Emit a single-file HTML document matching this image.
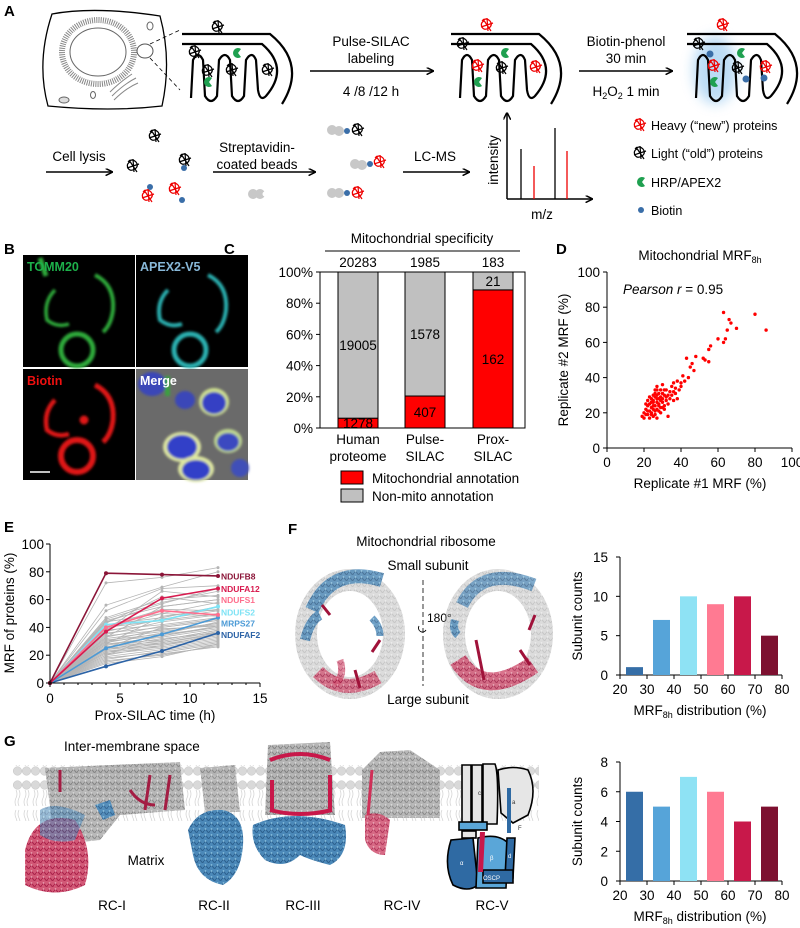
<!DOCTYPE html>
<html><head><meta charset="utf-8">
<style>
html,body{margin:0;padding:0;background:#fff;}
svg{display:block;font-family:"Liberation Sans",Arial,sans-serif;}
text{font-family:"Liberation Sans",Arial,sans-serif;}
</style></head>
<body>
<svg id="fig" width="800" height="928" viewBox="0 0 800 928" xmlns="http://www.w3.org/2000/svg">
<defs>
  <filter id="blur1" x="-20%" y="-20%" width="140%" height="140%"><feGaussianBlur stdDeviation="1.4"/></filter>
  <filter id="blur6" x="-50%" y="-50%" width="200%" height="200%"><feGaussianBlur stdDeviation="6"/></filter>
  <pattern id="lipid" x="13" y="0" width="9" height="60" patternUnits="userSpaceOnUse">
    <circle cx="4.5" cy="5" r="4.3" fill="#d9d9d9" stroke="#c4c4c4" stroke-width="0.5"/>
    <circle cx="4.5" cy="51" r="4.3" fill="#d9d9d9" stroke="#c4c4c4" stroke-width="0.5"/>
    <path d="M3,10 q2,4 0,8 q-2,4 0,8 M6,10 q2,4 0,8 q-2,4 0,8 M3,46 q2,-4 0,-8 q-2,-4 0,-8 M6,46 q2,-4 0,-8 q-2,-4 0,-8" stroke="#cfcfcf" stroke-width="0.7" fill="none"/>
  </pattern>
  <pattern id="grayprot" width="6" height="6" patternUnits="userSpaceOnUse">
    <rect width="6" height="6" fill="#a8a8a8"/>
    <path d="M0,3 q1.5,-3 3,0 t3,0" stroke="#6e6e6e" stroke-width="1" fill="none"/>
    <circle cx="1.5" cy="1" r="0.9" fill="#d8d8d8"/>
  </pattern>
  <pattern id="blueprot" width="6" height="6" patternUnits="userSpaceOnUse">
    <rect width="6" height="6" fill="#4b88b8"/>
    <path d="M0,3 q1.5,-3 3,0 t3,0" stroke="#2b5e8c" stroke-width="1" fill="none"/>
    <circle cx="1.5" cy="1" r="0.9" fill="#8cc3e0"/>
  </pattern>
  <pattern id="redprot" width="6" height="6" patternUnits="userSpaceOnUse">
    <rect width="6" height="6" fill="#d0506f"/>
    <path d="M0,3 q1.5,-3 3,0 t3,0" stroke="#a3123e" stroke-width="1" fill="none"/>
    <circle cx="1.5" cy="1" r="0.9" fill="#eaa0b0"/>
  </pattern>
  <marker id="arr" viewBox="0 0 10 10" refX="9" refY="5" markerWidth="5" markerHeight="5" orient="auto"><path d="M0,0 L10,5 L0,10" fill="none" stroke="#000" stroke-width="2"/></marker>
  <g id="prot"><path d="M-5,-4 q4,-4 8,0 q3,4 -1,7 q-5,3 -7,-1 q-2,-4 2,-6 M-6,2 L6,-2 M0,-7 L1,6 M-4,-6 L4,6" fill="none" stroke-width="1.2"/></g>
  <g id="mito">
    <path d="M0,2 H88 Q125,32 100,72" fill="none" stroke="#000" stroke-width="2.2"/>
    <path d="M0,12 H80 Q108,36 84,64 Q78,70 76,58 L74,28 Q70,18 64,28 L62,64 Q56,74 50,64 L48,28 Q43,18 37,28 L35,64 Q29,74 23,64 L21,28 Q16,18 11,28 L9,66" fill="none" stroke="#000" stroke-width="2.2"/>
  </g>
  <g id="hrp"><path d="M4,-4 A5,5 0 1 0 4,4 L1,0 Z" fill="#1fa050"/></g>
</defs>

<!-- ================= PANEL A ================= -->
<g>
  <text x="4" y="16" font-size="15" font-weight="bold">A</text>
  <g>
    <path d="M52,14 Q95,6 160,16 Q172,60 162,106 Q110,112 48,106 Q36,62 52,14 Z" fill="#fff" stroke="#000" stroke-width="1.3"/>
    <ellipse cx="98" cy="52" rx="36" ry="32" fill="none" stroke="#888" stroke-width="6" stroke-dasharray="1 1.2"/>
    <ellipse cx="98" cy="52" rx="28" ry="24" fill="#fff" stroke="#666" stroke-width="1"/>
    <path d="M110,92 q10,-10 22,-18 M112,96 q12,-12 24,-18 M114,100 q12,-12 24,-17" stroke="#888" fill="none" stroke-width="1"/>
    <ellipse cx="145" cy="51" rx="8" ry="7" fill="#fff" stroke="#555" stroke-width="1"/>
    <ellipse cx="64" cy="100" rx="5" ry="3" fill="#ddd" stroke="#666"/>
    <ellipse cx="150" cy="26" rx="3" ry="4" fill="none" stroke="#666"/>
    <ellipse cx="93" cy="95" rx="2.5" ry="3.5" fill="none" stroke="#666"/>
    <path d="M150,44 L180,30 M150,58 L180,90" stroke="#000" stroke-width="0.8" stroke-dasharray="4 3"/>
  </g>
  <use href="#mito" x="182" y="32"/>
  <use href="#prot" x="218" y="27" stroke="#000"/>
  <use href="#prot" x="195" y="52" stroke="#000"/>
  <use href="#prot" x="208" y="71" stroke="#000"/>
  <use href="#prot" x="232" y="70" stroke="#000"/>
  <use href="#prot" x="268" y="70" stroke="#000"/>
  <use href="#hrp" x="237" y="53"/><use href="#hrp" x="208" y="82"/>
  <line x1="310" y1="71" x2="433" y2="71" stroke="#000" stroke-width="1.5" marker-end="url(#arr)"/>
  <text x="371" y="46" font-size="13.5" text-anchor="middle">Pulse-SILAC</text>
  <text x="371" y="63" font-size="13.5" text-anchor="middle">labeling</text>
  <text x="371" y="96" font-size="13.5" text-anchor="middle">4 /8 /12 h</text>
  <use href="#mito" x="451" y="32"/>
  <use href="#prot" x="487" y="25" stroke="#e00"/>
  <use href="#prot" x="463" y="44" stroke="#000"/>
  <use href="#prot" x="478" y="66" stroke="#e00"/>
  <use href="#prot" x="502" y="68" stroke="#000"/>
  <use href="#prot" x="536" y="67" stroke="#e00"/>
  <use href="#hrp" x="505" y="53"/><use href="#hrp" x="478" y="82"/>
  <line x1="579" y1="71" x2="672" y2="71" stroke="#000" stroke-width="1.5" marker-end="url(#arr)"/>
  <text x="626" y="46" font-size="13.5" text-anchor="middle">Biotin-phenol</text>
  <text x="626" y="63" font-size="13.5" text-anchor="middle">30 min</text>
  <text x="626" y="96" font-size="13.5" text-anchor="middle">H<tspan font-size="9" dy="3">2</tspan><tspan dy="-3">O</tspan><tspan font-size="9" dy="3">2</tspan><tspan dy="-3"> 1 min</tspan></text>
  <ellipse cx="715" cy="70" rx="22" ry="34" fill="#8ec4ee" opacity="0.6" filter="url(#blur6)"/>
  <use href="#mito" x="687" y="32"/>
  <use href="#prot" x="723" y="25" stroke="#e00"/>
  <use href="#prot" x="699" y="44" stroke="#000"/>
  <use href="#prot" x="714" y="66" stroke="#e00"/>
  <use href="#prot" x="738" y="68" stroke="#000"/>
  <use href="#prot" x="766" y="67" stroke="#e00"/>
  <use href="#hrp" x="741" y="53"/><use href="#hrp" x="714" y="82"/>
  <circle cx="710" cy="54" r="3.5" fill="#3a6ea8"/><circle cx="746" cy="79" r="3.5" fill="#3a6ea8"/><circle cx="764" cy="78" r="3.5" fill="#3a6ea8"/>
  <text x="79" y="161" font-size="13.5" text-anchor="middle">Cell lysis</text>
  <line x1="46" y1="172" x2="112" y2="172" stroke="#000" stroke-width="1.5" marker-end="url(#arr)"/>
  <use href="#prot" x="155" y="136" stroke="#000"/>
  <use href="#prot" x="133" y="166" stroke="#000"/>
  <use href="#prot" x="185" y="160" stroke="#000"/><circle cx="184" cy="168" r="3" fill="#3a6ea8"/>
  <circle cx="150" cy="187" r="3" fill="#3a6ea8"/><use href="#prot" x="148" y="196" stroke="#e00"/>
  <use href="#prot" x="175" y="189" stroke="#e00"/><circle cx="182" cy="200" r="3" fill="#3a6ea8"/>
  <text x="257" y="152" font-size="13.5" text-anchor="middle">Streptavidin-</text>
  <text x="257" y="169" font-size="13.5" text-anchor="middle">coated beads</text>
  <line x1="213" y1="172" x2="315" y2="172" stroke="#000" stroke-width="1.5" marker-end="url(#arr)"/>
  <circle cx="253" cy="194" r="5" fill="#c8c8c8"/><circle cx="260" cy="194" r="5" fill="#c8c8c8"/><circle cx="265" cy="194" r="2.5" fill="#fff"/>
  <circle cx="332" cy="130" r="5" fill="#c8c8c8"/><circle cx="339" cy="131" r="5" fill="#c8c8c8"/><circle cx="347" cy="131" r="3" fill="#3a6ea8"/><use href="#prot" x="358" y="130" stroke="#000"/>
  <circle cx="355" cy="164" r="5" fill="#c8c8c8"/><circle cx="362" cy="165" r="5" fill="#c8c8c8"/><circle cx="370" cy="164" r="3" fill="#3a6ea8"/><use href="#prot" x="380" y="162" stroke="#e00"/>
  <circle cx="332" cy="193" r="5" fill="#c8c8c8"/><circle cx="339" cy="193" r="5" fill="#c8c8c8"/><circle cx="347" cy="193" r="3" fill="#3a6ea8"/><use href="#prot" x="358" y="193" stroke="#e00"/>
  <text x="435" y="161" font-size="13.5" text-anchor="middle">LC-MS</text>
  <line x1="403" y1="172" x2="469" y2="172" stroke="#000" stroke-width="1.5" marker-end="url(#arr)"/>
  <g>
    <line x1="507" y1="199" x2="507" y2="113" stroke="#000" stroke-width="1.5" marker-end="url(#arr)"/>
    <line x1="507" y1="199" x2="592" y2="199" stroke="#000" stroke-width="1.5" marker-end="url(#arr)"/>
    <line x1="521" y1="199" x2="521" y2="149" stroke="#000" stroke-width="1.3"/>
    <line x1="534" y1="199" x2="534" y2="166" stroke="#e00" stroke-width="1.3"/>
    <line x1="555" y1="199" x2="555" y2="128" stroke="#000" stroke-width="1.3"/>
    <line x1="567" y1="199" x2="567" y2="151" stroke="#e00" stroke-width="1.3"/>
    <text x="0" y="0" font-size="13.5" text-anchor="middle" transform="translate(498,160) rotate(-90)">intensity</text>
    <text x="542" y="219" font-size="13.5" text-anchor="middle">m/z</text>
  </g>
  <g>
    <use href="#prot" x="640" y="125" stroke="#e00"/>
    <text x="651" y="130" font-size="12.5">Heavy (“new”) proteins</text>
    <use href="#prot" x="640" y="153" stroke="#000"/>
    <text x="651" y="158" font-size="12.5">Light (“old”) proteins</text>
    <use href="#hrp" x="641" y="182"/>
    <text x="651" y="187" font-size="12.5">HRP/APEX2</text>
    <circle cx="641" cy="210" r="3" fill="#3a6ea8"/>
    <text x="651" y="215" font-size="12.5">Biotin</text>
  </g>
</g>

<!-- ================= PANEL B ================= -->
<g>
  <text x="4" y="254" font-size="15" font-weight="bold">B</text>
  <g>
    <rect x="23" y="255" width="112" height="112" fill="#000"/>
    <g stroke="#2faa3a" fill="none" filter="url(#blur1)">
      <circle cx="77" cy="350" r="16" stroke-width="5"/>
      <path d="M95,275 q20,10 18,35 q-2,15 -10,22" stroke-width="4"/>
      <path d="M55,290 q-12,12 -8,30 q10,8 22,4" stroke-width="3.5"/>
      <path d="M40,258 l6,18" stroke-width="5"/>
    </g>
    <text x="27" y="271" font-size="12.5" font-weight="bold" fill="#1db04a">TOMM20</text>
  </g>
  <g>
    <rect x="136" y="255" width="112" height="112" fill="#000"/>
    <g stroke="#2ab0b0" fill="none" filter="url(#blur1)">
      <circle cx="190" cy="350" r="16" stroke-width="5"/>
      <path d="M208,275 q20,10 18,35 q-2,15 -10,22" stroke-width="4"/>
      <path d="M168,290 q-12,12 -8,30 q10,8 22,4" stroke-width="4"/>
    </g>
    <text x="140" y="271" font-size="12.5" font-weight="bold" fill="#88b8d8">APEX2-V5</text>
  </g>
  <g>
    <rect x="23" y="369" width="112" height="111" fill="#000"/>
    <g stroke="#e01818" fill="none" filter="url(#blur1)">
      <circle cx="77" cy="456" r="16" stroke-width="6"/>
      <path d="M95,385 q20,10 18,35 q-2,15 -10,22" stroke-width="5"/>
      <path d="M55,400 q-12,12 -8,30 q10,8 22,4" stroke-width="4.5"/>
      <circle cx="84" cy="420" r="4" fill="#e01818"/>
    </g>
    <line x1="30" y1="472" x2="50" y2="472" stroke="#fff" stroke-width="1.5"/>
    <text x="27" y="385" font-size="12.5" font-weight="bold" fill="#f01010">Biotin</text>
  </g>
  <g>
    <rect x="136" y="369" width="112" height="111" fill="#6a6a6a"/>
    <g filter="url(#blur1)">
      <ellipse cx="182" cy="447" rx="19" ry="15" fill="#dfe8a0"/>
      <ellipse cx="182" cy="447" rx="15" ry="12" fill="#3040c8"/>
      <ellipse cx="196" cy="469" rx="18" ry="13" fill="#dfe8a0"/>
      <ellipse cx="196" cy="470" rx="14" ry="10" fill="#3040c8"/>
      <ellipse cx="214" cy="402" rx="15" ry="14" fill="#cfe090"/>
      <ellipse cx="214" cy="403" rx="12" ry="11" fill="#3440c4"/>
      <ellipse cx="228" cy="441" rx="14" ry="12" fill="#c0d890"/>
      <ellipse cx="228" cy="442" rx="11" ry="9" fill="#3a48c0"/>
      <ellipse cx="152" cy="384" rx="14" ry="12" fill="#3a46b8"/>
      <ellipse cx="185" cy="400" rx="10" ry="9" fill="#3a46b8"/>
      <ellipse cx="240" cy="468" rx="9" ry="9" fill="#4050b8"/>
      <rect x="165" y="376" width="5" height="20" fill="#3aa040"/>
    </g>
    <text x="140" y="385" font-size="12.5" font-weight="bold" fill="#fff">Merge</text>
  </g>
</g>

<!-- ================= PANEL C ================= -->
<g id="panelC">
  <text x="224" y="254" font-size="15" font-weight="bold">C</text>
  <text x="422" y="243" font-size="13.5" text-anchor="middle">Mitochondrial specificity</text>
  <line x1="325" y1="251" x2="520" y2="251" stroke="#000" stroke-width="1"/>
</g>

<!-- ================= PANEL D ================= -->
<g id="panelD">
  <text x="556" y="254" font-size="15" font-weight="bold">D</text>
  <text x="700" y="260" font-size="13.5" text-anchor="middle">Mitochondrial MRF<tspan font-size="9" dy="3">8h</tspan></text>
  <text x="623" y="294" font-size="13.5"><tspan font-style="italic">Pearson r</tspan> = 0.95</text>
</g>

<!-- ================= PANEL E ================= -->
<g id="panelE">
  <text x="4" y="532" font-size="15" font-weight="bold">E</text>
</g>

<!-- ================= PANEL F ================= -->
<g id="panelF">
  <text x="288" y="534" font-size="15" font-weight="bold">F</text>
  <text x="426" y="546" font-size="13.5" text-anchor="middle">Mitochondrial ribosome</text>
  <text x="428" y="570" font-size="13.5" text-anchor="middle">Small subunit</text>
  <text x="428" y="704" font-size="13.5" text-anchor="middle">Large subunit</text>
  <line x1="423" y1="580" x2="423" y2="686" stroke="#000" stroke-width="0.8" stroke-dasharray="5 3"/>
  <text x="427" y="622" font-size="12">180°</text>
  <path d="M419,626 a4,4 0 1 0 7,4" fill="none" stroke="#000" stroke-width="0.9"/>
  <g>
    <ellipse cx="350" cy="634" rx="44" ry="54" fill="none" stroke="url(#grayprot)" stroke-width="22" opacity="0.4"/>
    <path d="M312,610 q20,-45 70,-30" fill="none" stroke="url(#blueprot)" stroke-width="14" opacity="0.8"/>
    <path d="M305,640 q5,-20 15,-25" fill="none" stroke="url(#blueprot)" stroke-width="10" opacity="0.8"/>
    <path d="M372,618 q8,8 8,18" fill="none" stroke="url(#blueprot)" stroke-width="7" opacity="0.8"/>
    <path d="M318,672 q25,25 60,5" fill="none" stroke="url(#redprot)" stroke-width="14" opacity="0.75"/>
    <path d="M340,660 q5,15 -5,25" fill="none" stroke="url(#redprot)" stroke-width="7" opacity="0.7"/>
    <path d="M322,605 l8,10 M380,640 l-8,12 M355,670 l5,18" stroke="#a0123a" stroke-width="3"/>
    <ellipse cx="348" cy="630" rx="20" ry="12" fill="#fff"/>
  </g>
  <g>
    <ellipse cx="498" cy="634" rx="44" ry="54" fill="none" stroke="url(#grayprot)" stroke-width="22" opacity="0.4"/>
    <path d="M462,605 q20,-40 72,-20" fill="none" stroke="url(#blueprot)" stroke-width="13" opacity="0.7"/>
    <path d="M455,620 q-3,10 3,15" fill="none" stroke="url(#blueprot)" stroke-width="8" opacity="0.8"/>
    <path d="M458,660 q25,40 75,5" fill="none" stroke="url(#redprot)" stroke-width="18" opacity="0.8"/>
    <path d="M476,640 l8,40 M535,615 l-6,15 M520,650 l10,15" stroke="#a0123a" stroke-width="3"/>
    <ellipse cx="498" cy="630" rx="18" ry="12" fill="#fff"/>
  </g>
</g>

<!-- ================= PANEL G ================= -->
<g id="panelG">
  <text x="4" y="746" font-size="15" font-weight="bold">G</text>
  <text x="64" y="751" font-size="13.5">Inter-membrane space</text>
  <rect x="13" y="765" width="526" height="56" fill="url(#lipid)"/>
  <g opacity="0.95">
    <path d="M45,768 L180,762 L185,810 L120,815 L100,840 L55,845 Z" fill="url(#grayprot)" opacity="0.85"/>
    <path d="M25,850 q10,-40 50,-30 q20,30 10,65 q-30,15 -60,0 Z" fill="url(#redprot)"/>
    <path d="M40,810 q15,-10 45,5 l-10,25 q-20,5 -35,-5 Z" fill="url(#blueprot)" opacity="0.6"/>
    <path d="M95,805 l15,-5 l5,15 l-12,5 Z" fill="url(#blueprot)"/>
    <path d="M60,770 l0,22 M150,775 l-5,35 M170,775 l-5,35" stroke="#a0123a" stroke-width="3"/>
    <path d="M130,790 q10,15 25,15" stroke="#a0123a" stroke-width="3" fill="none"/>
  </g>
  <g>
    <path d="M200,768 L235,765 L240,812 L205,812 Z" fill="url(#grayprot)" opacity="0.75"/>
    <path d="M188,830 q10,-22 35,-20 q22,5 20,35 q-2,30 -20,40 q-25,-5 -30,-30 Z" fill="url(#blueprot)"/>
  </g>
  <g>
    <path d="M268,745 L330,742 L335,815 L265,815 Z" fill="url(#grayprot)" opacity="0.85"/>
    <path d="M270,760 q30,-12 60,0 M272,780 l0,30 M330,775 l0,35 M270,810 q30,8 62,0" stroke="#c8184a" stroke-width="4" fill="none"/>
    <path d="M253,825 q40,-18 92,0 q5,30 -15,40 q-20,-5 -30,-10 q-15,15 -35,5 q-15,-15 -12,-35 Z" fill="url(#blueprot)"/>
  </g>
  <g>
    <path d="M362,770 L380,752 L410,750 L440,770 L440,818 L362,818 Z" fill="url(#grayprot)" opacity="0.8"/>
    <path d="M365,815 q15,-5 25,5 l-5,35 q-15,0 -20,-15 Z" fill="url(#redprot)" opacity="0.85"/>
    <path d="M372,770 l-4,45" stroke="#d03058" stroke-width="3"/>
  </g>
  <g stroke="#000" stroke-width="1.6">
    <path d="M462,765 h9 v60 h-9 Z M472,765 h10 v60 h-10 Z" fill="#e6e6e6"/>
    <path d="M483,764 h12 q4,10 2,60 h-14 Z" fill="#e6e6e6"/>
    <path d="M498,770 q15,-5 30,0 q10,20 0,45 l-15,8 l-12,-10 Z" fill="#e6e6e6"/>
    <path d="M509,788 v45" stroke="#2f6aa3" stroke-width="4"/>
    <rect x="459" y="822" width="28" height="8" fill="#5aa6d8"/>
    <rect x="462" y="831" width="14" height="7" fill="#e6e6e6"/>
    <path d="M451,840 q-8,25 2,45 q15,8 25,0 l-5,-47 Z" fill="#2f6aa3"/>
    <path d="M478,838 q20,-5 30,5 l-2,45 h-30 Z" fill="#5aa6d8"/>
    <path d="M507,838 l8,0 l-2,40 l-8,0 Z" fill="#2f6aa3"/>
    <path d="M483,870 h30 v13 h-30 Z" fill="#2f6aa3"/>
    <path d="M480,832 l5,0 l-2,40 l-5,0 Z" fill="#c8184a" stroke="none"/>
    <g stroke="none" font-size="6" fill="#fff">
      <text x="460" y="865">α</text><text x="490" y="860">β</text><text x="483" y="880">OSCP</text><text x="508" y="858">d</text>
    </g>
    <g stroke="none" font-size="6" fill="#333">
      <text x="478" y="795">c</text><text x="512" y="804">a</text><text x="518" y="830">F</text>
    </g>
  </g>
  <text x="112" y="910" font-size="13.5" text-anchor="middle">RC-I</text>
  <text x="214" y="910" font-size="13.5" text-anchor="middle">RC-II</text>
  <text x="303" y="910" font-size="13.5" text-anchor="middle">RC-III</text>
  <text x="402" y="910" font-size="13.5" text-anchor="middle">RC-IV</text>
  <text x="492" y="910" font-size="13.5" text-anchor="middle">RC-V</text>
  <text x="146" y="865" font-size="13.5" text-anchor="middle">Matrix</text>
</g>
</svg>

<script>
// ---------- Panel C data ----------
const cCategories = ["Human proteome", "Pulse-SILAC", "Prox-SILAC"];
const cTotals = [20283, 1985, 183];
const cMito = [1278, 407, 162];
const cNonMito = [19005, 1578, 21];
const cTicks = [0, 20, 40, 60, 80, 100];

// ---------- Panel D data ----------
const dRep1 = [63,80,86,66,67,70,65,60,63,64,56,55,52,53,55,48,43,45,47,46,41,42,44,40,38,36,35,37,34,38,36,33,30,32,31,29,28,30,27,26,25,24,23,22,21,20,19,20,22,23,24,25,26,27,28,29,30,31,32,33,27,25,24,23,26,28,29,27,25,24,26,28,30,31,32,22,21,23,25,27,29,30,26,24,22,21,25,27,28,29,31,33,34,35,36,37,39,40,27,26];
const dRep2 = [77,76,67,73,71,68,67,62,60,62,58,56,51,50,49,52,51,46,44,48,41,38,40,37,38,37,35,34,32,28,32,30,36,33,30,33,31,28,30,29,27,26,25,24,22,20,18,17,19,21,23,22,24,26,25,27,26,24,27,18,17,18,20,17,19,21,23,22,24,28,31,28,31,33,29,27,25,29,30,33,29,23,21,19,21,19,26,28,24,20,22,25,28,30,27,31,33,35,35,33];
const dTicks = [0, 20, 40, 60, 80, 100];

// ---------- Panel E data ----------
const eTimes = [0, 4, 8, 12];
const eGray = [
 [0,72,76,83],[0,56,69,80],[0,52,68,70],[0,47,60,63],[0,46,58,66],[0,45,55,60],[0,44,50,58],[0,43,62,57],
 [0,42,47,55],[0,41,53,52],[0,40,45,50],[0,39,50,48],[0,38,42,47],[0,37,46,52],[0,36,40,45],[0,35,44,49],
 [0,34,38,43],[0,33,41,46],[0,32,37,42],[0,31,35,44],[0,30,39,41],[0,30,34,40],[0,29,36,43],[0,28,33,39],
 [0,28,31,38],[0,27,34,41],[0,26,30,37],[0,26,32,36],[0,25,29,35],[0,24,31,38],[0,24,28,34],[0,23,27,33],
 [0,22,29,36],[0,22,26,32],[0,21,25,31],[0,20,27,35],[0,19,24,30],[0,18,22,28],[0,17,23,29],[0,16,20,27],
 [0,15,21,26],[0,14,19,28],[0,33,55,60],[0,38,66,62],[0,28,48,53],[0,44,57,68],[0,25,40,45],[0,20,35,40]
];
const eNames = ["NDUFB8","NDUFA12","NDUFS1","NDUFS2","MRPS27","NDUFAF2"];
const eHighlight = [[0,79,78,77],[0,37,61,68],[0,40,52,49],[0,42,45,55],[0,25,35,47],[0,12,23,36]];
const eColors = ["#8b1538","#d81b4f","#ff6f8d","#7fe3f5","#4b9ad6","#2c63a6"];
const eXTicks = [0,5,10,15];
const eYTicks = [0,20,40,60,80,100];

// ---------- Panel F / G data ----------
const binStarts = [20,30,40,50,60,70];
const fCounts = [1,7,10,9,10,5];
const gCounts = [6,5,7,6,4,5];
const binColors = ["#356ea7","#56a4d9","#8ee2f4","#ff7a92","#c8184a","#7d1030"];
const binXTicks = [20,30,40,50,60,70,80];
const fYTicks = [0,5,10,15];
const gYTicks = [0,2,4,6,8];

const NS = "http://www.w3.org/2000/svg";
const FS = 13.5;
function mk(parent, tag, attrs, txt){
  const el = document.createElementNS(NS, tag);
  for (const k in attrs) el.setAttribute(k, attrs[k]);
  if (txt !== undefined) el.textContent = txt;
  parent.appendChild(el);
  return el;
}

// ===== C =====
(function(){
  const g = document.getElementById("panelC");
  const y = p => 428 - p*1.56;
  const barX = [338, 405, 473];
  mk(g,"rect",{x:320,y:272,width:205,height:156,fill:"#fff",stroke:"#000","stroke-width":1});
  cTicks.forEach(t=>{
    mk(g,"line",{x1:316,x2:320,y1:y(t),y2:y(t),stroke:"#000"});
    const tl = mk(g,"text",{x:313,y:y(t)+5,"font-size":FS,"text-anchor":"end"}, t+"%");
    
    
  });
  cCategories.forEach((c,i)=>{
    const pm = cMito[i]/cTotals[i]*100;
    const x = barX[i];
    const r1 = mk(g,"rect",{x:x,y:y(pm),width:40,height:428-y(pm),fill:"#f00",stroke:"#000","stroke-width":1});
    
    
    const r2 = mk(g,"rect",{x:x,y:y(100),width:40,height:y(pm)-y(100),fill:"#c0c0c0",stroke:"#000","stroke-width":1});
    
    
    mk(g,"text",{x:x+20,y:267,"font-size":FS,"text-anchor":"middle"}, String(cTotals[i]));
    const my = pm > 15 ? (y(pm)+428)/2+5 : 428;
    mk(g,"text",{x:x+20,y:my,"font-size":FS,"text-anchor":"middle"}, String(cMito[i]));
    const ny = (100-pm) > 15 ? (y(100)+y(pm))/2+5 : y(100)+14;
    mk(g,"text",{x:x+20,y:ny,"font-size":FS,"text-anchor":"middle"}, String(cNonMito[i]));
    const lab = i===0 ? ["Human","proteome"] : (i===1?["Pulse-","SILAC"]:["Prox-","SILAC"]);
    mk(g,"text",{x:x+20,y:444,"font-size":FS,"text-anchor":"middle"}, lab[0]);
    mk(g,"text",{x:x+20,y:461,"font-size":FS,"text-anchor":"middle"}, lab[1]);
  });
  const l1 = mk(g,"rect",{x:341,y:471,width:22,height:13,fill:"#f00",stroke:"#000"});
  
  
  mk(g,"text",{x:372,y:483,"font-size":FS},"Mitochondrial annotation");
  const l2 = mk(g,"rect",{x:341,y:489,width:22,height:13,fill:"#c0c0c0",stroke:"#000"});
  
  
  mk(g,"text",{x:372,y:501,"font-size":FS},"Non-mito annotation");
})();

// ===== D =====
(function(){
  const g = document.getElementById("panelD");
  const x = v => 607 + v*1.85;
  const y = v => 448 - v*1.76;
  mk(g,"line",{x1:607,y1:272,x2:607,y2:448,stroke:"#000"});
  mk(g,"line",{x1:607,y1:448,x2:792,y2:448,stroke:"#000"});
  dTicks.forEach(t=>{
    mk(g,"line",{x1:603,x2:607,y1:y(t),y2:y(t),stroke:"#000"});
    mk(g,"text",{x:600,y:y(t)+5,"font-size":FS,"text-anchor":"end"}, String(t));
    mk(g,"line",{x1:x(t),x2:x(t),y1:448,y2:452,stroke:"#000"});
    mk(g,"text",{x:x(t),y:467,"font-size":FS,"text-anchor":"middle"}, String(t));
  });
  mk(g,"text",{x:700,y:488,"font-size":FS,"text-anchor":"middle"},"Replicate #1 MRF (%)");
  mk(g,"text",{x:0,y:0,"font-size":FS,"text-anchor":"middle",transform:"translate(568,360) rotate(-90)"},"Replicate #2 MRF (%)");
  dRep1.forEach((v,i)=>{
    const c = mk(g,"circle",{cx:x(v),cy:y(dRep2[i]),r:1.7,fill:"#f00"});
    
    
  });
})();

// ===== E =====
(function(){
  const g = document.getElementById("panelE");
  const x = t => 50 + t*14;
  const y = v => 683 - v*1.39;
  eGray.forEach(s=>{
    const pts = s.map((v,i)=>x(eTimes[i])+","+y(v)).join(" ");
    const pl = mk(g,"polyline",{points:pts,fill:"none",stroke:"#b4b4b4","stroke-width":0.8});
    
    
    s.forEach((v,i)=>{ if(i>0) mk(g,"circle",{cx:x(eTimes[i]),cy:y(v),r:1.5,fill:"#b4b4b4"}); });
  });
  for (let k=eHighlight.length-1;k>=0;k--){
    const s = eHighlight[k];
    const pts = s.map((v,i)=>x(eTimes[i])+","+y(v)).join(" ");
    const pl = mk(g,"polyline",{points:pts,fill:"none",stroke:eColors[k],"stroke-width":1.6});
    
    
    s.forEach((v,i)=>{ mk(g,"circle",{cx:x(eTimes[i]),cy:y(v),r:2,fill:eColors[k]}); });
  }
  const labY = [77,68,60,51,43,35];
  eNames.forEach((n,k)=>{
    mk(g,"text",{x:221,y:y(labY[k])+3.5,"font-size":8.5,"font-weight":"bold",fill:eColors[k]}, n);
  });
  mk(g,"line",{x1:50,y1:544,x2:50,y2:683,stroke:"#000"});
  mk(g,"line",{x1:50,y1:683,x2:260,y2:683,stroke:"#000"});
  eYTicks.forEach(t=>{
    mk(g,"line",{x1:46,x2:50,y1:y(t),y2:y(t),stroke:"#000"});
    mk(g,"text",{x:44,y:y(t)+5,"font-size":FS,"text-anchor":"end"}, String(t));
  });
  for(let t=0;t<=15;t++){
    mk(g,"line",{x1:x(t),x2:x(t),y1:683,y2:t%5===0?687:685,stroke:"#000"});
  }
  eXTicks.forEach(t=>{
    mk(g,"text",{x:x(t),y:703,"font-size":FS,"text-anchor":"middle"}, String(t));
  });
  mk(g,"text",{x:155,y:720,"font-size":FS,"text-anchor":"middle"},"Prox-SILAC time (h)");
  mk(g,"text",{x:0,y:0,"font-size":FS,"text-anchor":"middle",transform:"translate(14,613) rotate(-90)"},"MRF of proteins (%)");
})();

// ===== F / G histograms =====
function histogram(gid, counts, yTicks, yTop, yBottom, yMax, prefix){
  const g = document.getElementById(gid);
  const x = v => 620 + (v-20)*2.7;
  const y = c => yBottom - c*(yBottom-yTop)/yMax;
  mk(g,"line",{x1:620,y1:yTop,x2:620,y2:yBottom,stroke:"#000"});
  mk(g,"line",{x1:620,y1:yBottom,x2:782,y2:yBottom,stroke:"#000"});
  yTicks.forEach(t=>{
    mk(g,"line",{x1:616,x2:620,y1:y(t),y2:y(t),stroke:"#000"});
    mk(g,"text",{x:608,y:y(t)+5,"font-size":FS,"text-anchor":"end"}, String(t));
  });
  binXTicks.forEach(t=>{
    mk(g,"line",{x1:x(t),x2:x(t),y1:yBottom,y2:yBottom+4,stroke:"#000"});
    mk(g,"text",{x:x(t),y:yBottom+19,"font-size":FS,"text-anchor":"middle"}, String(t));
  });
  counts.forEach((c,i)=>{
    const b = mk(g,"rect",{x:x(binStarts[i])+6,y:y(c),width:17,height:yBottom-y(c),fill:binColors[i]});
    
    
  });
  const t = mk(g,"text",{x:700,y:yBottom+40,"font-size":FS,"text-anchor":"middle"});
  t.innerHTML = 'MRF<tspan font-size="9" dy="3">8h</tspan><tspan dy="-3"> distribution (%)</tspan>';
  mk(g,"text",{x:0,y:0,"font-size":FS,"text-anchor":"middle",transform:"translate(582,"+((yTop+yBottom)/2)+") rotate(-90)"},"Subunit counts");
}
histogram("panelF", fCounts, fYTicks, 557, 675, 15, "f");
histogram("panelG", gCounts, gYTicks, 762, 881, 8, "g");
</script>
</body></html>
